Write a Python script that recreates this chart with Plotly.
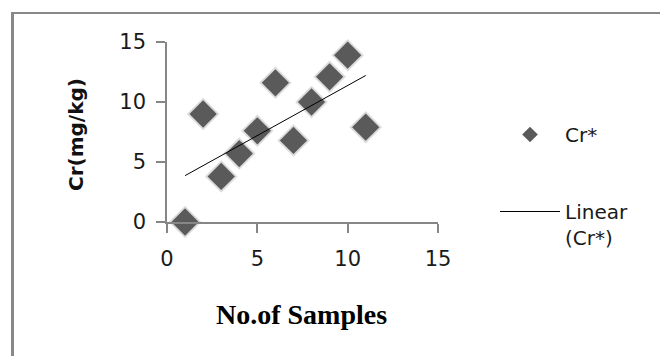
import numpy as np
import plotly.graph_objects as go

samples = [1, 2, 3, 4, 5, 6, 7, 8, 9, 10, 11]
cr_values = [0.0, 9.0, 3.8, 5.7, 7.6, 11.6, 6.8, 10.0, 12.1, 13.9, 7.9]
tick_vals = [0, 5, 10, 15]

slope, intercept = np.polyfit(samples, cr_values, 1)
trend_x = [samples[0], samples[-1]]
trend_y = [slope * x + intercept for x in trend_x]

# plot area in pixels
L, R, T, B = 167, 438, 42, 222
W, H = 660, 356

def px(xp):
    return (xp - L) / (R - L)

def py(yp):
    return (B - yp) / (B - T)

fig = go.Figure()
# soft shadow behind the diamonds
fig.add_trace(go.Scatter(
    x=samples, y=cr_values, mode="markers", showlegend=False, hoverinfo="skip",
    marker=dict(symbol="diamond", size=25, color="rgba(90,90,90,0.22)", line=dict(width=0)),
    cliponaxis=False,
))
fig.add_trace(go.Scatter(
    x=samples, y=cr_values, mode="markers", name="Cr*", showlegend=False,
    marker=dict(symbol="diamond", size=21, color="#5a5a5a", line=dict(width=0)),
    cliponaxis=False,
))
fig.add_trace(go.Scatter(
    x=trend_x, y=trend_y, mode="lines", name="Linear (Cr*)", showlegend=False,
    line=dict(color="#000000", width=1),
    cliponaxis=False,
))
# legend entries
fig.add_trace(go.Scatter(
    x=[None], y=[None], mode="markers", name="Cr*", legendgroup="a",
    marker=dict(symbol="diamond", size=12, color="#5a5a5a", line=dict(width=0)),
))
fig.add_trace(go.Scatter(
    x=[None], y=[None], mode="lines", name="Linear<br>(Cr*)", legendgroup="b",
    line=dict(color="#000000", width=1),
))

axis_common = dict(
    range=[0, 15], tickvals=tick_vals, ticks="outside", ticklen=9,
    tickcolor="#868686", tickwidth=1.5, showline=True, linecolor="#868686",
    linewidth=1.5, showgrid=False, zeroline=False,
    tickfont=dict(family="DejaVu Sans", size=21, color="#1a1a1a"),
)
fig.update_xaxes(**axis_common, ticklabelstandoff=8)
fig.update_yaxes(**axis_common, ticklabelstandoff=6)

fig.update_layout(
    width=W, height=H,
    margin=dict(l=L, r=W - R, t=T, b=H - B),
    plot_bgcolor="white", paper_bgcolor="white",
    showlegend=True,
    legend=dict(
        x=px(495), y=py(115), xanchor="left", yanchor="top",
        font=dict(family="DejaVu Sans", size=20, color="#1a1a1a"),
        itemsizing="trace", itemwidth=60, tracegroupgap=48,
        valign="top", bgcolor="rgba(0,0,0,0)",
    ),
    shapes=[
        dict(type="line", xref="paper", yref="paper", x0=px(12.5), x1=px(12.5),
             y0=py(12), y1=py(360), line=dict(color="#888888", width=3)),
        dict(type="line", xref="paper", yref="paper", x0=px(11), x1=px(665),
             y0=py(13), y1=py(13), line=dict(color="#888888", width=2)),
    ],
    annotations=[
        dict(text="<b>Cr(mg/kg)</b>", xref="paper", yref="paper",
             x=px(76), y=py(135), textangle=-90, showarrow=False,
             font=dict(family="DejaVu Sans", size=20, color="#111111"),
             xanchor="center", yanchor="middle"),
        dict(text="<b>No.of Samples</b>", xref="paper", yref="paper",
             x=px(301), y=py(314), showarrow=False,
             font=dict(family="Liberation Serif", size=28, color="#000000"),
             xanchor="center", yanchor="middle"),
    ],
)

fig.write_html("out.html")
